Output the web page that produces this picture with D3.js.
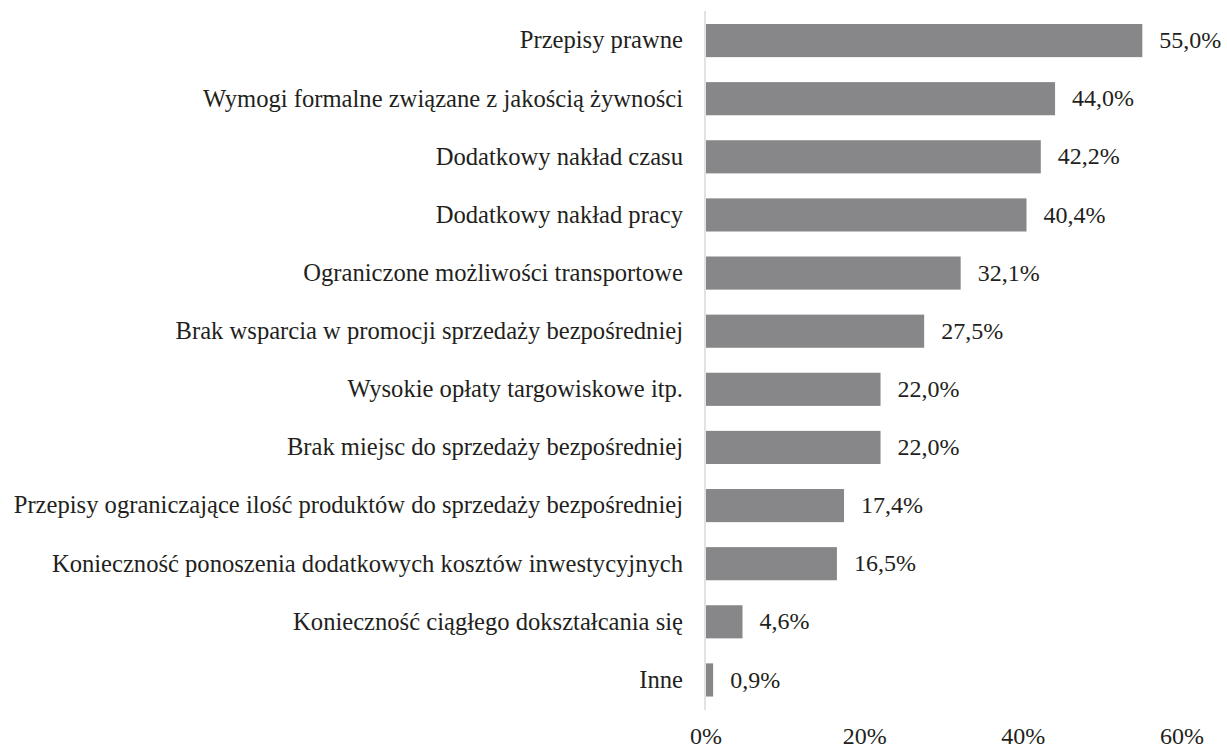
<!DOCTYPE html>
<html>
<head>
<meta charset="utf-8">
<script src="https://cdn.jsdelivr.net/npm/d3@7"></script>
<style>
body { margin: 0; background: #fff; }
text { font-family: "Liberation Serif", "Times New Roman", serif; fill: #231f20; font-size: 24px; }
text.cat { font-size: 24.6px; }
</style>
</head>
<body>
<div id="chart"></div>
<script>
var categories = [
	'Przepisy prawne',
	'Wymogi formalne związane z jakością żywności',
	'Dodatkowy nakład czasu',
	'Dodatkowy nakład pracy',
	'Ograniczone możliwości transportowe',
	'Brak wsparcia w promocji sprzedaży bezpośredniej',
	'Wysokie opłaty targowiskowe itp.',
	'Brak miejsc do sprzedaży bezpośredniej',
	'Przepisy ograniczające ilość produktów do sprzedaży bezpośredniej',
	'Konieczność ponoszenia dodatkowych kosztów inwestycyjnych',
	'Konieczność ciągłego dokształcania się',
	'Inne'
];
var values = [55.0, 44.0, 42.2, 40.4, 32.1, 27.5, 22.0, 22.0, 17.4, 16.5, 4.6, 0.9];
var ticks = [0, 20, 40, 60];

var width = 1227, height = 748;
var svg = d3.select('#chart').append('svg')
	.attr('width', width).attr('height', height);

var x = d3.scaleLinear().domain([0, 60]).range([706, 1182]);
var y = d3.scaleBand().domain(categories).range([11.5, 709]).paddingInner(0.43).paddingOuter(0.215);

var fmt = function(v) { return v.toFixed(1).replace('.', ',') + '%'; };

// bars
svg.selectAll('rect.bar')
	.data(values)
	.enter()
	.append('rect')
	.attr('class', 'bar')
	.attr('x', x(0))
	.attr('y', function(d, i) { return y(categories[i]); })
	.attr('width', function(d) { return x(d) - x(0); })
	.attr('height', y.bandwidth())
	.attr('fill', '#87878a');

// vertical axis line
svg.append('line')
	.attr('x1', x(0) - 1).attr('x2', x(0) - 1)
	.attr('y1', 11).attr('y2', 710)
	.attr('stroke', '#d9d9d9')
	.attr('stroke-width', 1.5);

// category labels
svg.selectAll('text.cat')
	.data(categories)
	.enter()
	.append('text')
	.attr('class', 'cat')
	.attr('x', 683)
	.attr('y', function(d) { return y(d) + y.bandwidth() / 2; })
	.attr('dy', '0.32em')
	.attr('text-anchor', 'end')
	.text(function(d) { return d; });

// value labels
svg.selectAll('text.val')
	.data(values)
	.enter()
	.append('text')
	.attr('class', 'val')
	.attr('x', function(d) { return x(d) + 17; })
	.attr('y', function(d, i) { return y(categories[i]) + y.bandwidth() / 2; })
	.attr('dy', '0.32em')
	.text(fmt);

// x tick labels
svg.selectAll('text.tick')
	.data(ticks)
	.enter()
	.append('text')
	.attr('class', 'tick')
	.attr('x', function(d) { return x(d); })
	.attr('y', 744)
	.attr('text-anchor', 'middle')
	.text(function(d) { return d + '%'; });
</script>
</body>
</html>
